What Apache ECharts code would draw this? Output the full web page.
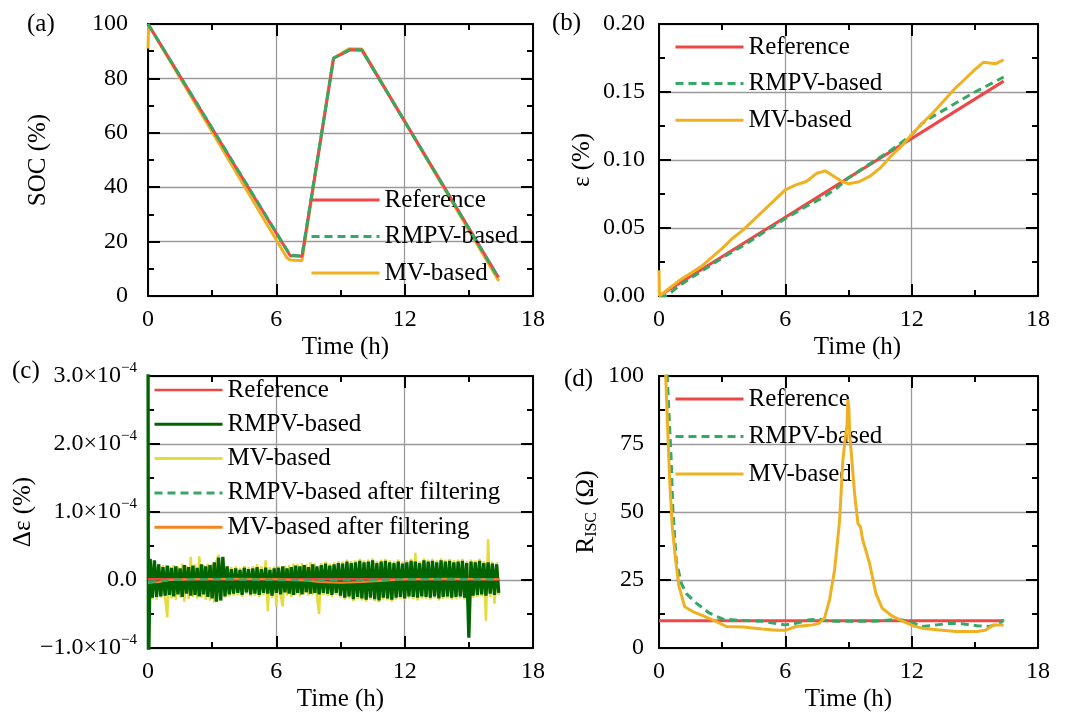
<!DOCTYPE html>
<html><head><meta charset="utf-8">
<script src="https://cdn.jsdelivr.net/npm/echarts@6/dist/echarts.min.js"></script>
<style>html,body{margin:0;padding:0;background:#fff}#c{width:1069px;height:718px}</style>
</head><body><div id="c"></div>
<script>
// ---------- Data ----------
// Tick values
const xTicks = [0, 6, 12, 18];
// (a) SOC (%)
const aRefT  = [0, 6.65, 7.2, 8.68, 9.45, 10.0, 16.39];
const aRefV  = [100, 14.8, 14.6, 87.4, 90.5, 90.4, 6.8];
const aRmpvT = [0, 6.65, 7.2, 8.68, 9.45, 10.0, 16.39];
const aRmpvV = [100, 15.0, 14.8, 87.5, 90.6, 90.4, 6.6];
const aMvT   = [0, 0.03, 6.5, 6.65, 7.2, 8.66, 9.4, 10.0, 16.4];
const aMvV   = [91, 99.6, 14.0, 13.2, 13.0, 87.4, 90.9, 90.8, 5.5];
// (b) epsilon (%)
const bRefT  = [0, 16.37];
const bRefV  = [0, 0.158];
const bRmpvT = [0, 0.3, 0.6, 1, 2, 3, 4, 5, 6, 7, 7.8, 8.5, 9, 10, 11, 12, 12.5, 13, 14, 15, 16, 16.37];
const bRmpvV = [0, 0.0, 0.003, 0.008, 0.018, 0.028, 0.037, 0.047, 0.057, 0.066, 0.0725, 0.080, 0.087, 0.097, 0.107, 0.1185, 0.127, 0.132, 0.141, 0.150, 0.158, 0.161];
const bMvT   = [0, 0.02, 1, 2, 3, 3.5, 4, 5, 6, 6.5, 7, 7.5, 7.9, 8.2, 8.7, 9, 9.5, 10, 10.5, 11, 11.5, 12, 12.5, 13, 13.5, 14, 14.5, 15, 15.4, 16, 16.37];
const bMvV   = [0.019, 0.0, 0.0118, 0.0216, 0.035, 0.0425, 0.0486, 0.0633, 0.078, 0.0817, 0.0842, 0.0903, 0.092, 0.089, 0.0842, 0.0825, 0.084, 0.0879, 0.094, 0.1026, 0.110, 0.1185, 0.127, 0.1345, 0.143, 0.1517, 0.159, 0.1664, 0.1718, 0.1708, 0.1737];
// (c) delta epsilon, in units of 1e-5 %
const cTime = [0, 0.02,
  0.1,0.2,0.3,0.4,0.5,0.6,0.7,0.8,0.9,1.0,
  1.1,1.2,1.3,1.4,1.5,1.6,1.7,1.8,1.9,2.0,
  2.1,2.2,2.3,2.4,2.5,2.6,2.7,2.8,2.9,3.0,
  3.1,3.2,3.3,3.4,3.5,3.6,3.7,3.8,3.9,4.0,
  4.1,4.2,4.3,4.4,4.5,4.6,4.7,4.8,4.9,5.0,
  5.1,5.2,5.3,5.4,5.5,5.6,5.7,5.8,5.9,6.0,
  6.1,6.2,6.3,6.4,6.5,6.6,6.7,6.8,6.9,7.0,
  7.1,7.2,7.3,7.4,7.5,7.6,7.7,7.8,7.9,8.0,
  8.1,8.2,8.3,8.4,8.5,8.6,8.7,8.8,8.9,9.0,
  9.1,9.2,9.3,9.4,9.5,9.6,9.7,9.8,9.9,10.0,
  10.1,10.2,10.3,10.4,10.5,10.6,10.7,10.8,10.9,11.0,
  11.1,11.2,11.3,11.4,11.5,11.6,11.7,11.8,11.9,12.0,
  12.1,12.2,12.3,12.4,12.5,12.6,12.7,12.8,12.9,13.0,
  13.1,13.2,13.3,13.4,13.5,13.6,13.7,13.8,13.9,14.0,
  14.1,14.2,14.3,14.4,14.5,14.6,14.7,14.8,14.9,15.0,
  15.1,15.2,15.3,15.4,15.5,15.6,15.7,15.8,15.9,16.0,
  16.1,16.2,16.3,16.4];
const cRmpv = [40, -15,
  3.1,-2.6,2.9,-2.5,2.3,-2.4,1.9,-2.3,2.1,-2.2,
  1.8,-2.4,2.0,-2.1,1.7,-2.5,2.2,-2.0,1.9,-2.3,
  2.1,-2.2,1.8,-2.4,2.3,-2.1,2.0,-2.5,2.2,-2.7,
  2.6,-3.2,3.3,-3.0,3.4,-2.4,2.0,-2.1,1.6,-2.0,
  1.7,-1.9,1.5,-2.2,1.8,-1.8,1.6,-2.1,1.7,-2.0,
  1.9,-2.2,1.6,-1.9,1.8,-2.0,1.5,-2.3,1.7,-1.9,
  1.8,-2.1,2.0,-1.8,1.7,-2.0,1.9,-2.2,2.1,-1.9,
  2.0,-2.1,2.2,-1.8,1.9,-2.0,2.3,-1.9,2.0,-2.1,
  2.2,-1.9,2.4,-2.0,2.1,-2.2,2.3,-1.9,2.5,-2.3,
  2.4,-2.6,2.7,-2.4,2.5,-2.8,2.6,-2.5,2.8,-2.7,
  2.6,-2.9,2.7,-2.6,2.9,-2.8,2.5,-3.0,2.7,-2.6,
  2.8,-2.7,2.6,-2.9,2.5,-2.6,2.7,-2.5,2.4,-2.7,
  2.6,-2.4,2.8,-2.5,2.7,-2.6,2.5,-2.4,2.9,-2.5,
  2.7,-2.6,2.8,-2.4,2.6,-2.7,2.9,-2.5,2.7,-2.4,
  2.8,-2.6,2.6,-2.5,2.7,-2.4,2.8,-2.6,2.5,-8.5,
  2.7,-2.3,2.6,-2.2,2.8,-2.1,2.5,-2.3,2.6,-2.0,
  2.4,-2.2,2.3,-1.9];
const cMv = [0.5, -1.0,
  3.0,-2.8,2.7,-2.9,2.4,-2.6,2.2,-2.5,-5.5,2.0,
  -2.7,2.2,-2.9,2.0,-2.6,2.4,-3.2,2.1,-2.8,3.4,
  -2.5,2.3,-2.7,3.5,-2.6,2.2,-2.9,2.4,-3.0,2.3,
  -3.3,2.8,3.7,-3.1,2.9,-2.6,2.1,-2.4,1.9,-2.3,
  2.0,-2.2,1.8,-2.5,2.1,-2.1,1.9,-2.4,2.0,-2.3,
  2.3,-2.5,2.0,-2.2,2.9,-4.6,1.9,-2.6,2.0,-3.9,
  2.1,-2.4,-3.9,2.1,-2.3,2.2,-2.5,2.4,-2.2,2.3,
  -2.4,2.5,-2.1,2.3,-2.3,2.6,-2.2,2.4,-2.4,-5.0,
  2.5,-2.2,2.7,-2.3,2.4,-2.5,2.6,-2.2,2.8,-2.6,
  2.7,-2.9,3.0,-2.7,2.8,-3.1,2.9,-2.8,3.1,-3.0,
  2.9,-3.2,3.0,-2.9,3.2,-3.1,2.8,-3.3,3.0,-2.9,
  3.1,-3.0,2.9,-3.2,2.8,-2.9,3.0,-2.8,2.7,-3.0,
  2.9,-2.7,3.1,-2.8,4.0,-3.0,2.8,-2.7,3.2,-2.8,
  3.0,-2.9,3.1,-2.7,2.9,-3.0,3.2,-2.8,3.0,-2.7,
  3.1,-2.9,2.9,-2.8,3.0,-2.7,3.1,-2.9,2.8,-2.6,
  3.0,-2.6,2.9,-2.5,3.1,-2.4,2.8,-6.0,6.0,-2.5,
  2.7,-3.5,2.6,-2.2];
const cRefT   = [0, 16.4];
const cRefV   = [0.1, 0.1];
const cRmpvFT = [0, 0.5, 1, 2, 4, 6, 8, 10, 12, 14, 16.4];
const cRmpvFV = [-0.3, -0.2, 0, 0.1, 0.1, 0, 0, 0, 0.1, 0.1, 0.1];
const cMvFT   = [0, 0.5, 1, 2, 4, 6, 7.5, 8, 9, 10, 11, 12, 14, 16.4];
const cMvFV   = [-0.4, -0.3, 0, 0.1, 0.2, 0.1, -0.1, -0.3, -0.4, -0.3, -0.1, 0.1, 0.2, 0.1];
// (d) R_ISC (Ohm)
const dRefT  = [0, 16.37];
const dRefV  = [10, 10];
const dRmpvT = [0.3, 0.45, 0.58, 0.66, 0.82, 1.06, 1.3, 1.77, 2.4, 3.04, 4, 4.9, 6, 6.5, 7.15, 7.6, 8.1, 9.5, 10.5, 11.3, 11.9, 12.5, 13.2, 13.8, 14.4, 15.1, 15.7, 16.2, 16.37];
const dRmpvV = [115, 90, 69, 50.6, 32, 23.8, 20, 16.5, 12.8, 10.6, 10.1, 9.8, 8.5, 9.1, 10.4, 10.6, 9.8, 9.8, 9.9, 10.6, 9.8, 7.9, 8.5, 9.1, 8.9, 8.2, 7.9, 9.1, 10.4];
const dMvT   = [0.25, 0.38, 0.5, 0.63, 0.79, 0.95, 1.22, 1.6, 2.1, 2.7, 3.2, 4, 4.9, 5.6, 6, 6.5, 7, 7.3, 7.6, 7.86, 8.1, 8.34, 8.58, 8.73, 8.86, 8.93, 8.97, 9.02, 9.06, 9.13, 9.29, 9.45, 9.57, 9.68, 10, 10.3, 10.6, 11.1, 11.6, 12.06, 12.5, 13.2, 14.1, 15.1, 15.5, 15.9, 16.37];
const dMvV   = [115, 87, 62.8, 44.5, 32.3, 22.6, 15.2, 13.4, 11.8, 9.8, 7.9, 7.7, 7.0, 6.5, 6.5, 7.9, 8.3, 8.5, 9.1, 11, 17.7, 28.7, 47, 68.9, 78, 82, 91.5, 88, 78, 72, 56.7, 45.7, 44.5, 39.6, 31.1, 20.1, 14.6, 11.6, 9.8, 8.2, 7.3, 6.7, 6.1, 6.1, 6.5, 8.5, 8.5];

// ---------- Styles ----------
const FONT = 'Liberation Serif';
const RED = '#EF4646', GREEN = '#34A864', YEL = '#EFB121', DKGREEN = '#006400', LYEL = '#E3DC3A', ORANGE = '#F5861F';
const GRIDCOL = '#9a9a9a';
const DASH = [8, 5];
const CLEAR = 'rgba(0,0,0,0)';

const grids = [
  {left: 148, top: 24, width: 385, height: 272},
  {left: 659, top: 24, width: 379, height: 272},
  {left: 148, top: 376, width: 385, height: 272},
  {left: 659, top: 376, width: 379, height: 272}
];

function axisBase(extra) {
  return Object.assign({
    type: 'value',
    axisLine: {show: true, onZero: false, lineStyle: {color: '#000', width: 2}},
    axisTick: {show: true, inside: true, length: 12, lineStyle: {color: '#000', width: 2}},
    minorTick: {show: true, splitNumber: 2, length: 6, lineStyle: {color: '#000', width: 2}},
    splitLine: {show: false},
    minorSplitLine: {show: false}
  }, extra);
}
const labelStyle = {fontFamily: FONT, fontSize: 24, color: '#000'};
const nameStyle = {fontFamily: FONT, fontSize: 25, color: '#000'};

const xAxes = [], yAxes = [];
const xNamePad = [10, 18, 0, 0];
const yCfg = [
  {min: 0, max: 100, interval: 20, name: 'SOC (%)', gap: 97, margin: 20, fmt: v => String(v)},
  {min: 0, max: 0.2, interval: 0.05, name: 'ε (%)', gap: 64, margin: 14, fmt: v => v.toFixed(2)},
  {min: -10, max: 30, interval: 10, name: 'Δε (%)', gap: 112, margin: 11,
   fmt: v => v === 0 ? '{b|0.0}' : '{b|' + (v < 0 ? '−' : '') + Math.abs(v / 10).toFixed(1) + '×10}{s|−4}'},
  {min: 0, max: 100, interval: 25, name: '{r|R}{sub|ISC}{r| (Ω)}', gap: 59, margin: 15, fmt: v => String(v)}
];
for (let g = 0; g < 4; g++) {
  xAxes.push(axisBase({
    gridIndex: g, position: 'bottom', min: xTicks[0], max: xTicks[xTicks.length - 1], interval: xTicks[1] - xTicks[0],
    axisLabel: Object.assign({margin: 12}, labelStyle),
    splitLine: {show: true, lineStyle: {color: GRIDCOL, width: 1.3}},
    name: 'Time (h)', nameLocation: 'middle', nameGap: 39,
    nameTextStyle: Object.assign({padding: [0, 0, 0, xNamePad[g]]}, nameStyle)
  }));
  xAxes.push(axisBase({
    gridIndex: g, position: 'top', min: xTicks[0], max: xTicks[xTicks.length - 1], interval: xTicks[1] - xTicks[0],
    axisLabel: {show: false}
  }));
  const c = yCfg[g];
  yAxes.push(axisBase({
    gridIndex: g, position: 'left', min: c.min, max: c.max, interval: c.interval,
    axisLabel: Object.assign({margin: c.margin, formatter: c.fmt,
      rich: {b: {fontFamily: FONT, fontSize: 24, color: '#000', lineHeight: 30},
             s: {fontFamily: FONT, fontSize: 15, color: '#000', lineHeight: 12, verticalAlign: 'top'}}}, labelStyle),
    splitLine: {show: true, lineStyle: {color: GRIDCOL, width: 1.3}},
    name: c.name, nameLocation: 'middle', nameGap: c.gap,
    nameTextStyle: Object.assign({
      rich: {r: {fontFamily: FONT, fontSize: 25, color: '#000', lineHeight: 28},
             sub: {fontFamily: FONT, fontSize: 16, color: '#000', lineHeight: 14, verticalAlign: 'bottom'}}
    }, nameStyle)
  }));
  yAxes.push(axisBase({
    gridIndex: g, position: 'right', min: c.min, max: c.max, interval: c.interval,
    axisLabel: {show: false}
  }));
}

function line(name, xs, ys, g, color, width, dashed, z) {
  return {
    type: 'line', name: name, xAxisIndex: 2 * g, yAxisIndex: 2 * g,
    data: xs.map((x, i) => [x, ys[i]]), symbol: 'none', showSymbol: false,
    lineStyle: {color: color, width: width, type: dashed ? DASH : 'solid'},
    itemStyle: {color: color}, z: z, clip: true, animation: false
  };
}

const series = [
  // (a)
  line('MV-based', aMvT, aMvV, 0, YEL, 3, false, 2),
  line('Reference', aRefT, aRefV, 0, RED, 3, false, 3),
  line('RMPV-based', aRmpvT, aRmpvV, 0, GREEN, 3, true, 4),
  // (b)
  line('Reference', bRefT, bRefV, 1, RED, 3, false, 3),
  line('RMPV-based', bRmpvT, bRmpvV, 1, GREEN, 3, true, 4),
  line('MV-based', bMvT, bMvV, 1, YEL, 3, false, 5),
  // (c)
  line('MV-based', cTime, cMv, 2, LYEL, 2.5, false, 2),
  line('RMPV-based', cTime, cRmpv, 2, DKGREEN, 3.3, false, 3),
  line('Reference', cRefT, cRefV, 2, RED, 2.5, false, 4),
  line('RMPV-based after filtering', cRmpvFT, cRmpvFV, 2, GREEN, 2.5, true, 5),
  line('MV-based after filtering', cMvFT, cMvFV, 2, ORANGE, 2, false, 4),
  // (d)
  line('Reference', dRefT, dRefV, 3, RED, 3, false, 3),
  line('RMPV-based', dRmpvT, dRmpvV, 3, GREEN, 3, true, 4),
  line('MV-based', dMvT, dMvV, 3, YEL, 3, false, 5)
];

function li(name, color, dashed, width) {
  return {name: name, icon: 'inherit',
    lineStyle: {color: color, width: width || 3, type: dashed ? DASH : 'solid'},
    itemStyle: {color: CLEAR, borderColor: CLEAR, borderWidth: 0, opacity: 0}};
}
function legend(left, top, gap, data) {
  return {
    left: left, top: top, orient: 'vertical', padding: 0, itemGap: gap,
    itemWidth: 68, itemHeight: 4, selectedMode: false, icon: 'inherit',
    textStyle: {fontFamily: FONT, fontSize: 25, color: '#000', lineHeight: 26},
    data: data
  };
}
const legends = [
  legend(310, 187, 10.5, [li('Reference', RED), li('RMPV-based', GREEN, true), li('MV-based', YEL)]),
  legend(674, 34, 10.6, [li('Reference', RED), li('RMPV-based', GREEN, true), li('MV-based', YEL)]),
  legend(153, 377, 8.3, [li('Reference', RED, false, 2.5), li('RMPV-based', DKGREEN, false, 3), li('MV-based', LYEL, false, 3),
                         li('RMPV-based after filtering', GREEN, true, 3), li('MV-based after filtering', ORANGE, false, 3)]),
  legend(674, 386, 11.5, [li('Reference', RED), li('RMPV-based', GREEN, true), li('MV-based', YEL)])
];

const panelLabels = [['(a)', 27, 12], ['(b)', 552, 11], ['(c)', 12, 359], ['(d)', 564, 367]];

const chart = echarts.init(document.getElementById('c'), null, {renderer: 'canvas'});
chart.setOption({
  backgroundColor: '#fff',
  animation: false,
  grid: grids,
  xAxis: xAxes,
  yAxis: yAxes,
  legend: legends,
  series: series,
  graphic: panelLabels.map(p => ({type: 'text', left: p[1], top: p[2],
    style: {text: p[0], font: '25px "' + FONT + '"', fill: '#000'}}))
});
</script></body></html>
